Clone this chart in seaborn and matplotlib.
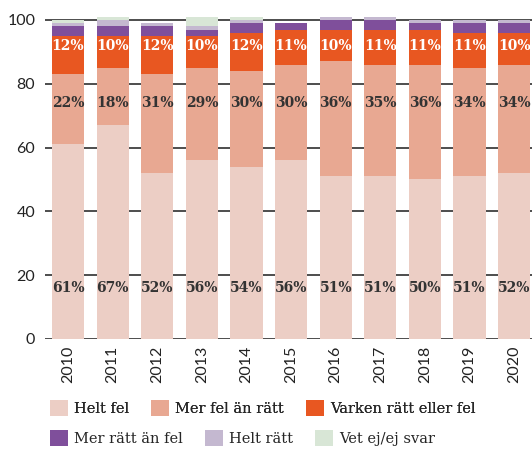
import pandas as pd
import seaborn as sns
import matplotlib.pyplot as plt
from matplotlib.patches import Patch

# Data
years = ["2010", "2011", "2012", "2013", "2014", "2015", "2016", "2017", "2018", "2019", "2020"]
helt_fel = [61, 67, 52, 56, 54, 56, 51, 51, 50, 51, 52]
mer_fel = [22, 18, 31, 29, 30, 30, 36, 35, 36, 34, 34]
varken = [12, 10, 12, 10, 12, 11, 10, 11, 11, 11, 10]
mer_ratt = [3, 3, 3, 2, 3, 2, 3, 3, 2, 3, 3]
helt_ratt = [1, 2, 1, 1, 1, 0, 1, 1, 1, 1, 1]
vet_ej = [1, 1, 0, 3, 1, 0, 0, 0, 0, 0, 0]

series = ["Helt fel", "Mer fel än rätt", "Varken rätt eller fel",
          "Mer rätt än fel", "Helt rätt", "Vet ej/ej svar"]
values = [helt_fel, mer_fel, varken, mer_ratt, helt_ratt, vet_ej]
colors = ["#ECCEC5", "#E8A892", "#E85721", "#7F4F9B", "#C4B8D0", "#D8E6D6"]

df = pd.DataFrame({name: vals for name, vals in zip(series, values)}, index=years)
cum = df.cumsum(axis=1)

sns.set_style("white")
plt.rcParams["font.family"] = ["Lato", "DejaVu Sans"]

fig = plt.figure(figsize=(5.32, 4.53), dpi=100)
ax = fig.add_axes([45 / 532, 114 / 453, 487 / 532, 325.4 / 453])

# stacked bars: draw cumulative totals from the top layer down
for name, col in reversed(list(zip(series, colors))):
    sns.barplot(x=years, y=cum[name].values, color=col, width=0.72,
                order=years, ax=ax, saturation=1, linewidth=0, zorder=2)

# percent labels for the three biggest segments (fixed heights as in the original)
label_rows = [(helt_fel, 16, "#333333"), (mer_fel, 74, "#333333"), (varken, 92, "white")]
for vals, ypos, tcol in label_rows:
    for i, v in enumerate(vals):
        ax.text(i, ypos, f"{v}%", ha="center", va="center", color=tcol,
                fontsize=10, fontweight="bold", family="DejaVu Serif", zorder=5)

ax.set_ylim(0, 102)
ax.set_xlim(-0.516, 10.4)
ax.set_yticks([0, 20, 40, 60, 80, 100])
ax.yaxis.grid(True, color="#4d4d4d", linewidth=1.4)
ax.set_axisbelow(True)
for s in ax.spines.values():
    s.set_visible(False)
ax.tick_params(axis="both", length=0, labelsize=11.5, colors="#222222")
ax.tick_params(axis="y", pad=7)
ax.tick_params(axis="x", pad=5)
plt.setp(ax.get_xticklabels(), rotation=90)
ax.set_xlabel("")
ax.set_ylabel("")

# legend in two rows
handles = [Patch(facecolor=c, edgecolor="none") for c in colors]
leg_kw = dict(ncol=3, frameon=False, handlelength=1.25, handleheight=1.25,
              handletextpad=0.4, columnspacing=1.5, borderpad=0, borderaxespad=0,
              prop={"family": "DejaVu Serif", "size": 10.5})
leg1 = fig.legend(handles[:3], series[:3], loc="center left",
                  bbox_to_anchor=(50 / 532, 1 - 408 / 453), **leg_kw)
fig.add_artist(leg1)
fig.legend(handles[3:], series[3:], loc="center left",
           bbox_to_anchor=(50 / 532, 1 - 438 / 453), **leg_kw)

fig.savefig("out.png", dpi=100)
